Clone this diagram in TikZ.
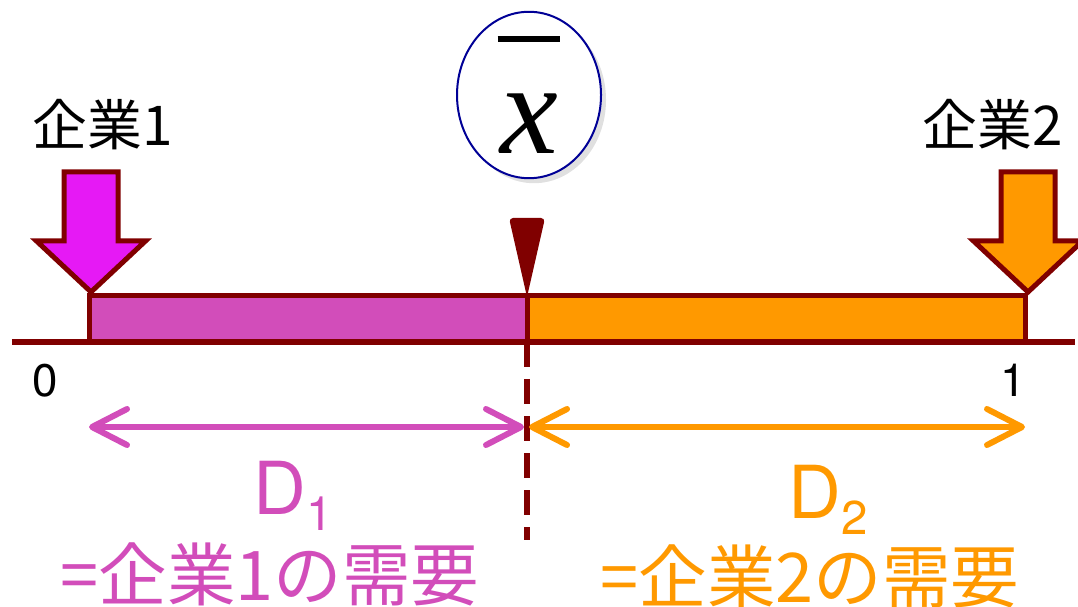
\documentclass[tikz,border=0pt]{standalone}
\usepackage{fontspec}
\usepackage{tikz}
\usetikzlibrary{shapes.geometric,arrows.meta,positioning,calc,shadows}
\setmainfont{TeX Gyre Heros}
\newfontfamily\jpfont{Noto Sans CJK JP}
\newfontfamily\xfont{Liberation Serif}
\definecolor{axisred}{RGB}{128, 0, 0}
\definecolor{firmone}{RGB}{210, 77, 186}
\definecolor{firmonearrow}{RGB}{230, 25, 245}
\definecolor{firmtwo}{RGB}{255, 153, 0}
\definecolor{meanblue}{RGB}{0, 0, 150}

\begin{document}
\begin{tikzpicture}[
  firmlabel/.style={font=\jpfont\fontsize{15.6}{18}\selectfont, inner sep=0pt, anchor=base},
  ticklabel/.style={font=\fontsize{13}{15}\selectfont, inner sep=0pt, anchor=base},
  demandlabel/.style={font=\fontsize{20.8}{24}\selectfont, inner sep=0pt, anchor=base west},
  sharelabel/.style={font=\jpfont\fontsize{19.5}{22}\selectfont, inner sep=0pt, anchor=base},
  segment/.style={draw=axisred, line width=0.5mm},
  blockarrow/.style={draw=axisred, line width=0.5mm, line join=miter},
  demand/.style={line width=0.6mm, {Straight Barb[length=3.5mm, width=3.6mm, round]}-{Straight Barb[length=3.5mm, width=3.6mm, round]}},
  meanmark/.style={draw=meanblue, line width=0.2mm, ellipse, fill=white, minimum width=1.44cm, minimum height=1.62cm, inner sep=0pt,
    drop shadow={fill=black!35, opacity=0.35, shadow xshift=0.5mm, shadow yshift=-0.5mm}}
]
\clip (0,0) rectangle (10.78,-6.07);

% mean location
\node[meanmark] (mean) at (5.29,-0.95) {\xfont\itshape\fontsize{37}{42}\selectfont\makebox[0pt][l]{\hspace{-0.02em}\raisebox{0.86em}{\rule{0.48em}{0.045em}}}x};

% firm labels
\node[firmlabel] (firm1) at (1.03,-1.46) {企業1};
\node[firmlabel] (firm2) at (9.93,-1.46) {企業2};

% market segments
\coordinate (left) at (0.895,-3.42);
\coordinate (split) at (5.27,-3.42);
\coordinate (right) at (10.255,-3.42);
\filldraw[segment, fill=firmone] (left) rectangle (5.27,-2.96);
\filldraw[segment, fill=firmtwo] (split) rectangle (10.255,-2.96);
\draw[axisred, line width=0.6mm] (0.12,-3.42) -- (10.75,-3.42);
\fill[axisred, rounded corners=0.4mm] (5.09,-2.18) -- (5.45,-2.18) -- (5.27,-2.97) -- cycle;

% firm positions
\coordinate (tip1) at (0.91,-2.92);
\coordinate (tip2) at (10.28,-2.92);
\draw[blockarrow, fill=firmonearrow] (tip1) -- ++(-0.545,0.51) -- ++(0.275,0) -- ++(0,0.69) -- ++(0.54,0) -- ++(0,-0.69) -- ++(0.275,0) -- cycle;
\draw[blockarrow, fill=firmtwo] (tip2) -- ++(-0.545,0.51) -- ++(0.275,0) -- ++(0,0.69) -- ++(0.54,0) -- ++(0,-0.69) -- ++(0.275,0) -- cycle;

% ticks
\node[ticklabel] (zero) at (0.45,-3.96) {0};
\node[ticklabel] (one) at (10.13,-3.96) {1};

% indifferent consumer
\coordinate (cut) at (5.27,-5.40);
\draw[axisred, line width=0.6mm, dash pattern=on 2.5mm off 1.2mm] (split) -- (cut);

% demands
\coordinate (d1start) at (0.89,-4.27);
\coordinate (dmid) at (5.24,-4.27);
\coordinate (d2start) at (5.29,-4.27);
\coordinate (d2end) at (10.25,-4.27);
\draw[demand, firmone] (d1start) -- (dmid);
\draw[demand, firmtwo] (d2start) -- (d2end);

\node[demandlabel, text=firmone] (dem1) at (2.53,-5.14) {D\raisebox{-0.22em}{\fontsize{13.5}{15}\selectfont 1}};
\node[demandlabel, text=firmtwo] (dem2) at (7.88,-5.18) {D\raisebox{-0.22em}{\fontsize{13.5}{15}\selectfont 2}};
\node[sharelabel, text=firmone] (share1) at (2.70,-6.00) {=企業1の需要};
\node[sharelabel, text=firmtwo] (share2) at (8.10,-6.02) {=企業2の需要};

\end{tikzpicture}
\end{document}
